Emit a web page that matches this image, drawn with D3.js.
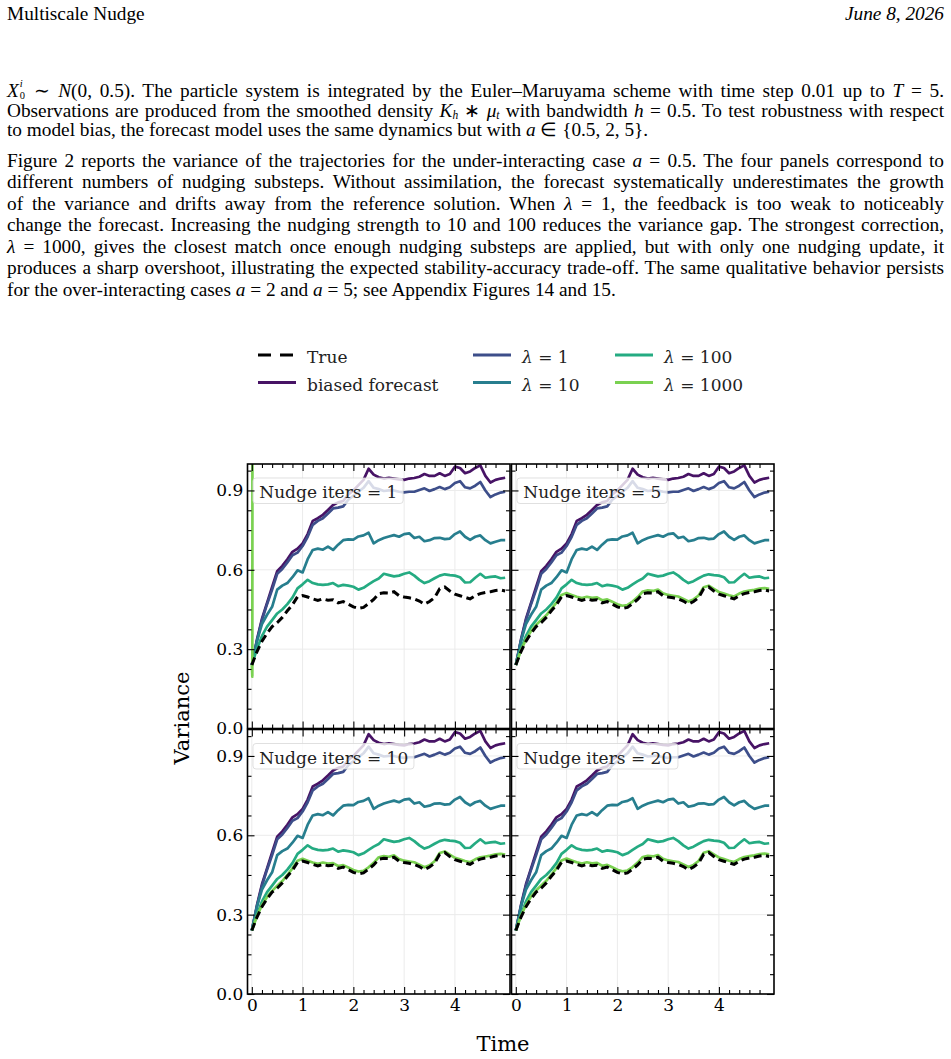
<!DOCTYPE html>
<html>
<head>
<meta charset="utf-8">
<script src="https://cdn.jsdelivr.net/npm/d3@7"></script>
<style>
  html, body { margin: 0; padding: 0; background: #fff; }
  body { width: 951px; height: 1059px; position: relative; overflow: hidden;
         font-family: "Liberation Serif", "Times New Roman", serif; color: #000; }
  .ln { position: absolute; left: 7px; font-size: 19.3px; line-height: 16px; white-space: nowrap; }
  .hr { position: absolute; right: 7px; font-size: 19.3px; line-height: 16px; font-style: italic; white-space: nowrap; }
  .ss { position: relative; display: inline-block; width: 8px; height: 1px; font-size: 10.5px; line-height: 10px; }
  .ss .sp { position: absolute; left: 1px; top: -16.05px; }
  .ss .sb { position: absolute; left: 1px; top: -4.35px; font-style: normal; }
  sub { font-size: 11.5px; line-height: 0; vertical-align: -2px; }
  svg { position: absolute; left: 0; top: 0; }
</style>
</head>
<body>
<script>
// ---- page text ----
const headerLeft = "Multiscale Nudge";
const headerRight = "June 8, 2026";
const bodyLines = [
  '<i>X</i><span class="ss"><i class="sp">i</i><span class="sb">0</span></span> ∼ <i>N</i>(0, 0.5). The particle system is integrated by the Euler–Maruyama scheme with time step 0.01 up to <i>T</i> = 5.',
  'Observations are produced from the smoothed density <i>K</i><sub><i>h</i></sub> ∗ <i>μ</i><sub><i>t</i></sub> with bandwidth <i>h</i> = 0.5. To test robustness with respect',
  'to model bias, the forecast model uses the same dynamics but with <i>a</i> ∈ {0.5, 2, 5}.',
  'Figure 2 reports the variance of the trajectories for the under-interacting case <i>a</i> = 0.5. The four panels correspond to',
  'different numbers of nudging substeps. Without assimilation, the forecast systematically underestimates the growth',
  'of the variance and drifts away from the reference solution. When <i>λ</i> = 1, the feedback is too weak to noticeably',
  'change the forecast. Increasing the nudging strength to 10 and 100 reduces the variance gap. The strongest correction,',
  '<i>λ</i> = 1000, gives the closest match once enough nudging substeps are applied, but with only one nudging update, it',
  'produces a sharp overshoot, illustrating the expected stability-accuracy trade-off. The same qualitative behavior persists',
  'for the over-interacting cases <i>a</i> = 2 and <i>a</i> = 5; see Appendix Figures 14 and 15.'
];
const lineBaselines = [97, 117, 136.5, 167, 188.5, 210, 231.5, 253, 274.5, 296];
const lastLines = [2, 9];

// ---- chart data ----
const times = [0, 0.1, 0.2, 0.3, 0.4, 0.5, 0.6, 0.7, 0.8, 0.9,
  1.0, 1.1, 1.2, 1.3, 1.4, 1.5, 1.6, 1.7, 1.8, 1.9,
  2.0, 2.1, 2.2, 2.3, 2.4, 2.5, 2.6, 2.7, 2.8, 2.9,
  3.0, 3.1, 3.2, 3.3, 3.4, 3.5, 3.6, 3.7, 3.8, 3.9,
  4.0, 4.1, 4.2, 4.3, 4.4, 4.5, 4.6, 4.7, 4.8, 4.9, 4.99];

const trueVar = [0.24, 0.29, 0.33, 0.36, 0.385, 0.40, 0.42, 0.445, 0.468, 0.498,
  0.503, 0.497, 0.49, 0.484, 0.49, 0.485, 0.487, 0.475, 0.48, 0.47,
  0.46, 0.454, 0.458, 0.472, 0.488, 0.51, 0.513, 0.512, 0.517, 0.502,
  0.497, 0.494, 0.49, 0.482, 0.47, 0.48, 0.495, 0.528, 0.535, 0.52,
  0.508, 0.502, 0.496, 0.49, 0.502, 0.51, 0.514, 0.517, 0.522, 0.524, 0.52];

const biasedVar = [0.24, 0.335, 0.415, 0.475, 0.535, 0.595, 0.615, 0.64, 0.668, 0.68,
  0.70, 0.735, 0.785, 0.795, 0.808, 0.826, 0.845, 0.855, 0.86, 0.885,
  0.90, 0.92, 0.94, 0.982, 0.96, 0.95, 0.945, 0.948, 0.945, 0.942,
  0.94, 0.945, 0.947, 0.952, 0.962, 0.955, 0.955, 0.965, 0.955, 0.962,
  0.99, 0.985, 0.965, 0.972, 0.985, 0.995, 0.955, 0.93, 0.94, 0.945, 0.948];

const lam1Var = [0.24, 0.33, 0.41, 0.47, 0.525, 0.585, 0.603, 0.628, 0.655, 0.665,
  0.69, 0.725, 0.77, 0.785, 0.795, 0.813, 0.832, 0.835, 0.84, 0.865,
  0.88, 0.895, 0.91, 0.935, 0.91, 0.905, 0.898, 0.9, 0.9, 0.895,
  0.893, 0.895, 0.895, 0.902, 0.908, 0.898, 0.905, 0.913, 0.905, 0.912,
  0.928, 0.935, 0.912, 0.908, 0.918, 0.932, 0.9, 0.875, 0.885, 0.892, 0.895];

const lam10Var = [0.24, 0.33, 0.395, 0.43, 0.46, 0.525, 0.54, 0.55, 0.572, 0.598,
  0.59, 0.64, 0.675, 0.68, 0.676, 0.688, 0.675, 0.695, 0.712, 0.715,
  0.714, 0.726, 0.73, 0.74, 0.70, 0.712, 0.72, 0.726, 0.731, 0.725,
  0.735, 0.738, 0.72, 0.725, 0.708, 0.712, 0.72, 0.721, 0.716, 0.718,
  0.735, 0.745, 0.725, 0.713, 0.725, 0.73, 0.712, 0.70, 0.706, 0.712, 0.712];

const lam100Var = [0.24, 0.30, 0.35, 0.385, 0.41, 0.435, 0.45, 0.47, 0.495, 0.53,
  0.545, 0.562, 0.55, 0.545, 0.543, 0.545, 0.55, 0.538, 0.543, 0.54,
  0.536, 0.525, 0.532, 0.545, 0.557, 0.567, 0.585, 0.58, 0.575, 0.578,
  0.585, 0.59, 0.578, 0.562, 0.55, 0.557, 0.568, 0.578, 0.583, 0.58,
  0.578, 0.572, 0.552, 0.553, 0.57, 0.585, 0.57, 0.573, 0.575, 0.568, 0.57];

// lambda = 1000 blows up right away with a single nudge iteration
const lam1000Iter1Times = [0, 0.01, 0.02];
const lam1000Iter1 = [0.24, 0.196, 4.0];

const lam1000Iter5 = [0.24, 0.295, 0.337, 0.368, 0.392, 0.41, 0.428, 0.452, 0.476, 0.505,
  0.512, 0.505, 0.498, 0.493, 0.498, 0.494, 0.496, 0.485, 0.488, 0.479,
  0.47, 0.464, 0.467, 0.48, 0.497, 0.518, 0.522, 0.52, 0.525, 0.511,
  0.505, 0.502, 0.499, 0.49, 0.48, 0.488, 0.503, 0.534, 0.54, 0.528,
  0.516, 0.51, 0.504, 0.499, 0.51, 0.518, 0.521, 0.524, 0.529, 0.531, 0.528];

const lam1000Iter10 = [0.24, 0.294, 0.336, 0.367, 0.39, 0.409, 0.427, 0.45, 0.475, 0.504,
  0.511, 0.504, 0.497, 0.492, 0.497, 0.493, 0.495, 0.484, 0.487, 0.478,
  0.469, 0.463, 0.466, 0.479, 0.496, 0.517, 0.521, 0.519, 0.524, 0.51,
  0.504, 0.501, 0.498, 0.489, 0.479, 0.487, 0.502, 0.533, 0.539, 0.527,
  0.515, 0.509, 0.503, 0.498, 0.509, 0.517, 0.52, 0.523, 0.528, 0.53, 0.527];

const lam1000Iter20 = [0.24, 0.295, 0.337, 0.368, 0.391, 0.41, 0.428, 0.451, 0.476, 0.505,
  0.512, 0.505, 0.498, 0.493, 0.498, 0.494, 0.496, 0.485, 0.488, 0.479,
  0.47, 0.464, 0.467, 0.48, 0.497, 0.518, 0.522, 0.52, 0.525, 0.511,
  0.505, 0.502, 0.499, 0.49, 0.48, 0.488, 0.503, 0.534, 0.54, 0.528,
  0.516, 0.51, 0.504, 0.499, 0.51, 0.518, 0.521, 0.524, 0.529, 0.531, 0.528];

const nudgeIters = [1, 5, 10, 20];
const xTicks = [0, 1, 2, 3, 4];
const yTicks = [0, 0.3, 0.6, 0.9];
const legendLabels = ["True", "biased forecast", "1", "10", "100", "1000"];

// ---- page text ----
const body = d3.select("body");
const baseOff = 14.5; // div top -> text baseline
body.append("div").attr("class", "ln").style("top", (20 - baseOff) + "px").text(headerLeft);
body.append("div").attr("class", "hr").style("top", (20 - baseOff) + "px").text(headerRight);

const textWidth = 937;
bodyLines.forEach((html, i) => {
  const div = body.append("div").attr("class", "ln")
    .style("top", (lineBaselines[i] - baseOff) + "px")
    .html(html);
  if (lastLines.indexOf(i) < 0) {
    // justify: spread the leftover width over the spaces
    const w = div.node().getBoundingClientRect().width;
    const spaces = (div.text().match(/ /g) || []).length;
    div.style("word-spacing", ((textWidth - w) / spaces) + "px");
  }
});

// ---- chart ----
const svg = body.append("svg").attr("width", 951).attr("height", 1059);
const font = "DejaVu Serif";

const colors = {
  biased: d3.interpolateViridis(0.05),
  l1: d3.interpolateViridis(0.2375),
  l10: d3.interpolateViridis(0.425),
  l100: d3.interpolateViridis(0.6125),
  l1000: d3.interpolateViridis(0.8)
};

var W = 262.5, H = 264.5;
var panelX = [247.5, 511.5], panelY = [464, 729.5];
var xDomain = [-0.085, 5.085];

const xMinor = d3.range(1, 26).map(k => k * 0.2).filter(v => Math.abs(v - Math.round(v)) > 1e-6);
const yMinor = d3.range(1, 14).map(k => k * 0.075).filter(v => v < 1 && Math.abs(v / 0.3 - Math.round(v / 0.3)) > 1e-6);

const lam1000Sets = [
  { t: lam1000Iter1Times, v: lam1000Iter1 },
  { t: times, v: lam1000Iter5 },
  { t: times, v: lam1000Iter10 },
  { t: times, v: lam1000Iter20 }
];

function styleAxis(sel) {
  sel.select(".domain").remove();
  sel.selectAll(".tick line").attr("stroke", "#000").attr("stroke-width", 1.1);
  sel.attr("font-family", font).attr("font-size", 17);
  sel.selectAll(".tick text").attr("fill", "#000");
}

nudgeIters.forEach((iters, i) => {
  const row = Math.floor(i / 2), col = i % 2;
  const x0 = panelX[col], y0 = panelY[row];
  const x = d3.scaleLinear().domain(xDomain).range([x0, x0 + W]);
  const y = d3.scaleLinear().domain([0, 1]).range([y0 + H, y0]);
  const g = svg.append("g");

  // grid
  g.selectAll(".gx").data(xTicks).join("line")
    .attr("x1", d => x(d)).attr("x2", d => x(d))
    .attr("y1", y0).attr("y2", y0 + H)
    .attr("stroke", "#ebebeb").attr("stroke-width", 1);
  g.selectAll(".gy").data(yTicks).join("line")
    .attr("x1", x0).attr("x2", x0 + W)
    .attr("y1", d => y(d)).attr("y2", d => y(d))
    .attr("stroke", "#ebebeb").attr("stroke-width", 1);

  const clipId = "clip" + iters;
  svg.append("clipPath").attr("id", clipId).append("rect")
    .attr("x", x0).attr("y", y0).attr("width", W).attr("height", H);
  const plot = g.append("g").attr("clip-path", `url(#${clipId})`);

  const line = d3.line().x((d, k) => x(times[k])).y(d => y(d));
  const series = [
    { v: biasedVar, c: colors.biased },
    { v: lam1Var, c: colors.l1 },
    { v: lam10Var, c: colors.l10 },
    { v: lam100Var, c: colors.l100 }
  ];
  series.forEach(s => {
    plot.append("path").attr("d", line(s.v))
      .attr("fill", "none").attr("stroke", s.c).attr("stroke-width", 2.7)
      .attr("stroke-linejoin", "round");
  });
  const ls = lam1000Sets[i];
  const line1000 = d3.line().x((d, k) => x(ls.t[k])).y(d => y(d));
  plot.append("path").attr("d", line1000(ls.v))
    .attr("fill", "none").attr("stroke", colors.l1000).attr("stroke-width", 2.7)
    .attr("stroke-linejoin", "round");
  plot.append("path").attr("d", line(trueVar))
    .attr("fill", "none").attr("stroke", "#000").attr("stroke-width", 3)
    .attr("stroke-dasharray", "8,4.5");

  // panel label in a half transparent box
  const label = g.append("text")
    .attr("x", x0 + 11.8).attr("y", y0 + 34)
    .attr("font-family", font).attr("font-size", 17).attr("fill", "#222")
    .text("Nudge iters = " + iters);
  const tw = label.node().getComputedTextLength();
  g.insert("rect", () => label.node())
    .attr("x", x0 + 5.5).attr("y", y0 + 14)
    .attr("width", tw + 12).attr("height", 25.5).attr("rx", 3)
    .attr("fill", "#fff").attr("fill-opacity", 0.8)
    .attr("stroke", "#d8d8d8").attr("stroke-opacity", 0.8);

  // ticks on all four sides, pointing in
  g.append("g").attr("transform", `translate(0,${y0 + H})`)
    .call(d3.axisBottom(x).tickValues(xTicks).tickSize(-7).tickPadding(5)
      .tickFormat(row === 1 ? d3.format("d") : () => ""))
    .call(styleAxis);
  g.append("g").attr("transform", `translate(0,${y0 + H})`)
    .call(d3.axisBottom(x).tickValues(xMinor).tickSize(-4).tickFormat(() => ""))
    .call(styleAxis);
  g.append("g").attr("transform", `translate(0,${y0})`)
    .call(d3.axisTop(x).tickValues(xTicks).tickSize(-7).tickFormat(() => ""))
    .call(styleAxis);
  g.append("g").attr("transform", `translate(0,${y0})`)
    .call(d3.axisTop(x).tickValues(xMinor).tickSize(-4).tickFormat(() => ""))
    .call(styleAxis);
  g.append("g").attr("transform", `translate(${x0},0)`)
    .call(d3.axisLeft(y).tickValues(yTicks).tickSize(-7).tickPadding(4.2)
      .tickFormat(col === 0 ? d3.format(".1f") : () => ""))
    .call(styleAxis);
  g.append("g").attr("transform", `translate(${x0},0)`)
    .call(d3.axisLeft(y).tickValues(yMinor).tickSize(-4).tickFormat(() => ""))
    .call(styleAxis);
  g.append("g").attr("transform", `translate(${x0 + W},0)`)
    .call(d3.axisRight(y).tickValues(yTicks).tickSize(-7).tickFormat(() => ""))
    .call(styleAxis);
  g.append("g").attr("transform", `translate(${x0 + W},0)`)
    .call(d3.axisRight(y).tickValues(yMinor).tickSize(-4).tickFormat(() => ""))
    .call(styleAxis);

  g.append("rect").attr("x", x0).attr("y", y0).attr("width", W).attr("height", H)
    .attr("fill", "none").attr("stroke", "#000").attr("stroke-width", 1.6);
});

// axis titles
svg.append("text").attr("transform", "translate(189,718) rotate(-90)")
  .attr("text-anchor", "middle").attr("font-family", font).attr("font-size", 21)
  .text("Variance");
svg.append("text").attr("x", 503).attr("y", 1051)
  .attr("text-anchor", "middle").attr("font-family", font).attr("font-size", 21)
  .text("Time");

// legend: three columns, two rows
const legendColors = ["#000", colors.biased, colors.l1, colors.l10, colors.l100, colors.l1000];
const legendColX = [258, 473, 615];
const legendRowY = [355, 382.5];
legendLabels.forEach((lab, k) => {
  const cx = legendColX[Math.floor(k / 2)], cy = legendRowY[k % 2];
  svg.append("line").attr("x1", cx).attr("x2", cx + 38).attr("y1", cy).attr("y2", cy)
    .attr("stroke", legendColors[k]).attr("stroke-width", 2.8)
    .attr("stroke-dasharray", k === 0 ? "13,9" : null);
  const t = svg.append("text").attr("x", cx + 49).attr("y", cy + 8)
    .attr("font-family", font).attr("font-size", 17).attr("fill", "#222");
  if (k < 2) {
    t.text(lab);
  } else {
    t.append("tspan").attr("font-style", "italic").text("λ");
    t.append("tspan").text(" = " + lab);
  }
});
</script>
</body>
</html>
